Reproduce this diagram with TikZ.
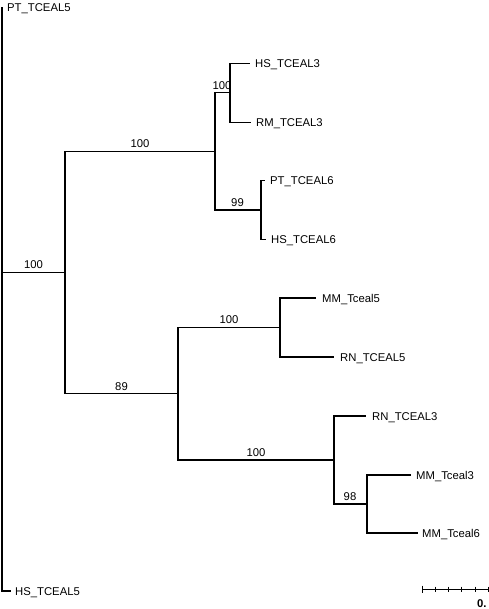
\documentclass[tikz,border=0pt]{standalone}
\usepackage{fontspec}
\setmainfont{Liberation Sans}
\usetikzlibrary{calc}
\begin{document}
\begin{tikzpicture}[x=1pt,y=-1pt,
  br/.style={line width=1.2pt, line cap=rect, draw=black},
  leaf/.style={anchor=base west, inner sep=0pt, font=\fontsize{11.3}{13}\selectfont},
  boot/.style={anchor=base, inner sep=0pt, yshift=3.6pt, font=\fontsize{11.3}{13}\selectfont},
  scalelbl/.style={anchor=base west, inner sep=0pt, font=\bfseries\fontsize{11.3}{13}\selectfont}]
\useasboundingbox (0,0) rectangle (488,609);
% internal nodes
\coordinate (root) at (2,272.4);
\coordinate (AB) at (65,272.4);
\coordinate (A) at (215,151.5);
\coordinate (a1) at (230,92.9);
\coordinate (a2) at (261,210.1);
\coordinate (B) at (178,393.7);
\coordinate (b1) at (280,327.5);
\coordinate (b3) at (334,459.9);
\coordinate (b2) at (367,504);
% leaf tips
\coordinate (tPT5) at (2,8);
\coordinate (tHS3) at (249,63.6);
\coordinate (tRM3) at (250,122.2);
\coordinate (tPT6) at (264,180.8);
\coordinate (tHS6) at (265,239.4);
\coordinate (tMM5) at (315,298);
\coordinate (tRN5) at (333,357);
\coordinate (tRN3) at (365,416);
\coordinate (tMM3) at (410,475);
\coordinate (tMM6) at (417,533);
\coordinate (tHS5) at (10,591);
% branches
\draw[br] (root) |- (tPT5);
\draw[br] (root) |- (tHS5);
\draw[br] (root) -- (AB);
\draw[br] (AB) |- (A);
\draw[br] (AB) |- (B);
\draw[br] (A) |- (a1);
\draw[br] (A) |- (a2);
\draw[br] (a1) |- (tHS3);
\draw[br] (a1) |- (tRM3);
\draw[br] (a2) |- (tPT6);
\draw[br] (a2) |- (tHS6);
\draw[br] (B) |- (b1);
\draw[br] (B) |- (b3);
\draw[br] (b1) |- (tMM5);
\draw[br] (b1) |- (tRN5);
\draw[br] (b3) |- (tRN3);
\draw[br] (b3) |- (b2);
\draw[br] (b2) |- (tMM3);
\draw[br] (b2) |- (tMM6);
% leaf labels
\node[leaf] (lPT5) at ([xshift=5pt,yshift=-4pt]tPT5) {PT\_TCEAL5};
\node[leaf] (lHS3) at ([xshift=6pt,yshift=-4pt]tHS3) {HS\_TCEAL3};
\node[leaf] (lRM3) at ([xshift=6pt,yshift=-4pt]tRM3) {RM\_TCEAL3};
\node[leaf] (lPT6) at ([xshift=6pt,yshift=-4pt]tPT6) {PT\_TCEAL6};
\node[leaf] (lHS6) at ([xshift=6pt,yshift=-4pt]tHS6) {HS\_TCEAL6};
\node[leaf] (lMM5) at ([xshift=7pt,yshift=-4pt]tMM5) {MM\_Tceal5};
\node[leaf] (lRN5) at ([xshift=7pt,yshift=-4pt]tRN5) {RN\_TCEAL5};
\node[leaf] (lRN3) at ([xshift=7pt,yshift=-4pt]tRN3) {RN\_TCEAL3};
\node[leaf] (lMM3) at ([xshift=6pt,yshift=-4pt]tMM3) {MM\_Tceal3};
\node[leaf] (lMM6) at ([xshift=5pt,yshift=-4pt]tMM6) {MM\_Tceal6};
\node[leaf] (lHS5) at ([xshift=5pt,yshift=-4pt]tHS5) {HS\_TCEAL5};
% bootstrap labels
\node[boot] (bAB) at ($(root)!0.5!(AB)$) {100};
\node[boot] (bA) at (140,151.5) {100};
\node[boot] (bB) at (121.5,393.7) {89};
\node[boot] (ba1) at (222,92.9) {100};
\node[boot] (ba2) at (237.5,210.1) {99};
\node[boot] (bb1) at (229,327.5) {100};
\node[boot] (bb3) at (256,459.9) {100};
\node[boot] (bb2) at (350,504) {98};
% scale bar
\coordinate (s0) at (422,589);
\coordinate (s1) at (490,589);
\draw[line width=1pt] (s0) -- (s1);
\draw[line width=1pt] ([yshift=3.5pt]s0) -- ([yshift=-3.5pt]s0);
\foreach \k in {1,...,5} {
  \draw[line width=1pt] ([xshift=\k*13.3pt,yshift=2.5pt]s0) -- ([xshift=\k*13.3pt,yshift=-2.5pt]s0);
}
\node[scalelbl] (slab) at (477,607) {0.};
\end{tikzpicture}
\end{document}
